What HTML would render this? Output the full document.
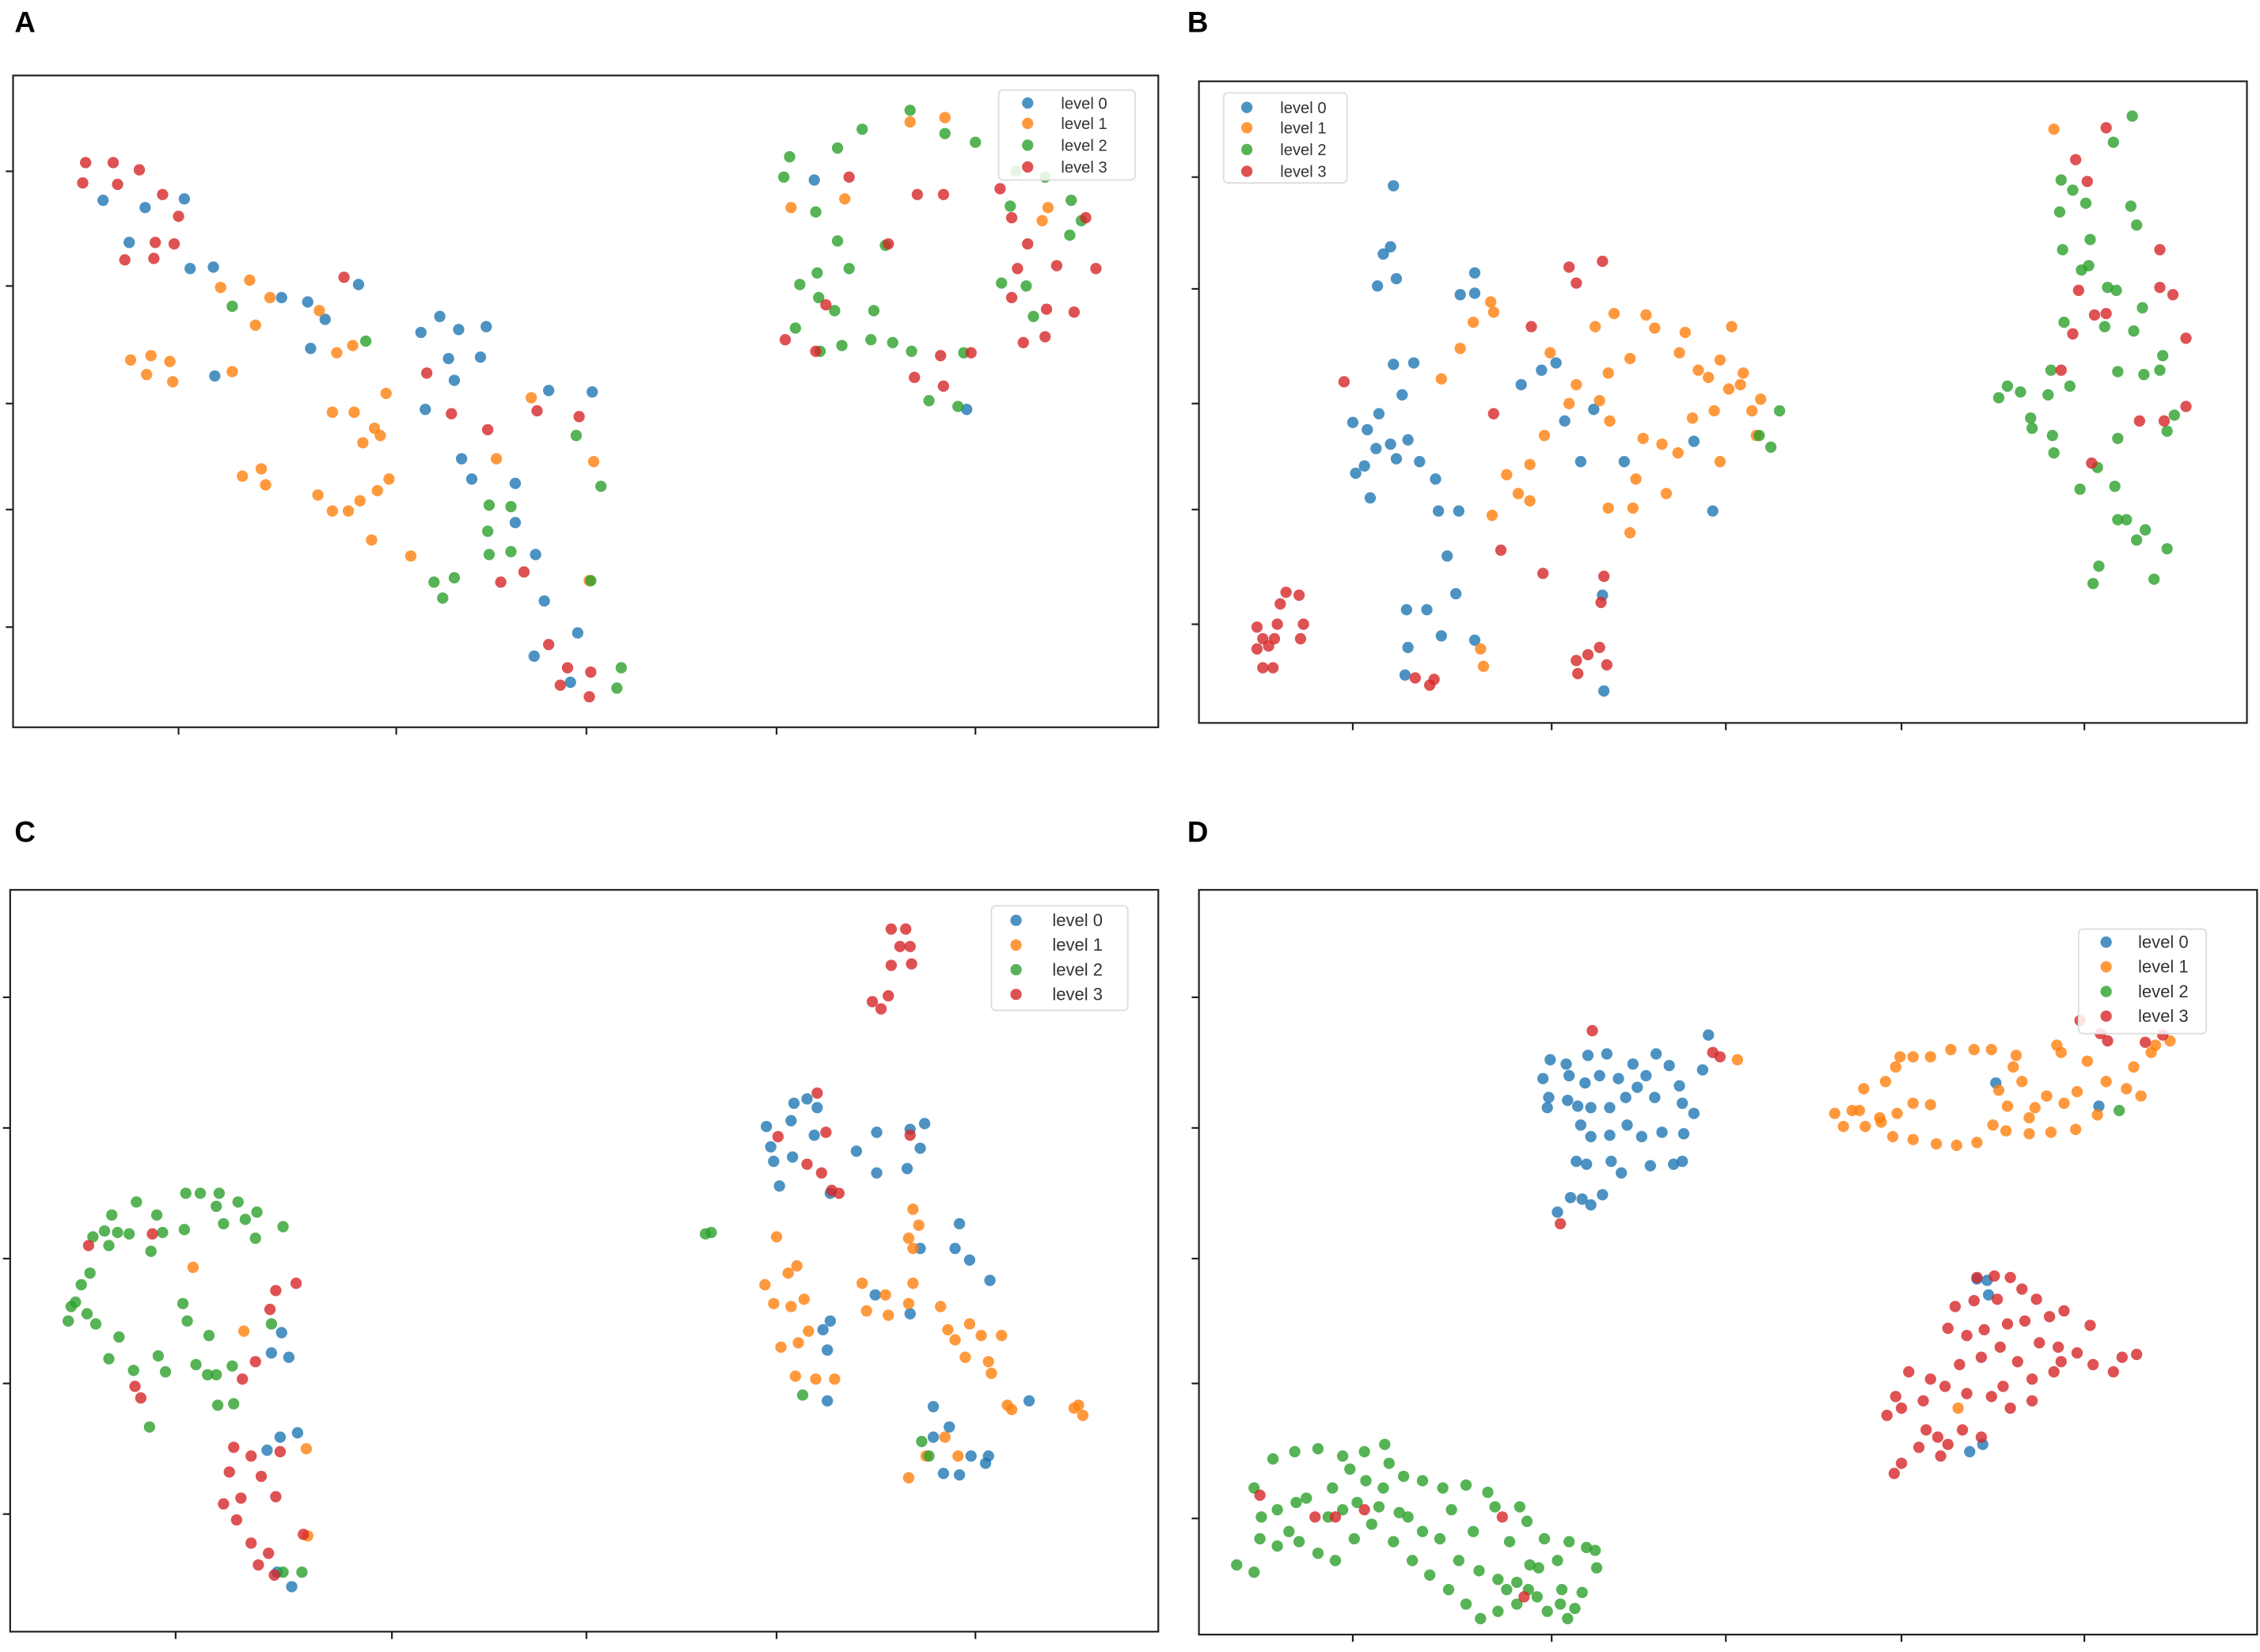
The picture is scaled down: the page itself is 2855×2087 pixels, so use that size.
<!DOCTYPE html>
<html><head><meta charset="utf-8"><style>
html,body{margin:0;padding:0;background:#fff;}
svg{display:block;}
text{font-family:"Liberation Sans",sans-serif;}
</style></head><body>
<svg id="fig" width="2855" height="2087" viewBox="0 0 1557 1138" preserveAspectRatio="none" xmlns="http://www.w3.org/2000/svg">
<rect x="0" y="0" width="1557" height="1138" fill="#fff"/>
</svg>
<script>
// ---- data (per panel, per level) : [x, y] in embedding units ----
const A_L0=[[71,138],[89,167],[100,143],[127,137],[131,185],[147,184],[194,205],[212,208],[214,240],[224,220],[148,259],[247,196],[290,229],[303,218],[316,227],[335,225],[309,247],[331,246],[293,282],[313,262],[318,316],[325,330],[355,333],[355,360],[378,269],[408,270],[369,382],[375,414],[398,436],[368,452],[393,470],[561,124],[666,282]];
const A_L1=[[90,248],[104,245],[101,258],[117,249],[119,263],[152,198],[172,193],[176,224],[186,205],[220,214],[232,243],[243,238],[160,256],[167,328],[180,323],[183,334],[229,284],[244,284],[266,271],[258,295],[250,305],[262,300],[268,330],[260,338],[219,341],[229,352],[248,345],[240,352],[256,372],[283,383],[366,274],[342,316],[409,318],[406,400],[545,143],[582,137],[627,84],[651,81],[718,152],[722,143]];
const A_L2=[[160,211],[252,235],[299,401],[313,398],[305,412],[337,348],[352,349],[337,382],[352,380],[336,366],[397,300],[414,335],[407,400],[428,460],[425,474],[544,108],[540,122],[577,102],[594,89],[627,76],[651,92],[672,98],[562,146],[577,166],[563,188],[564,205],[585,185],[610,169],[551,196],[575,214],[602,214],[548,226],[565,242],[580,238],[600,234],[615,236],[628,242],[664,243],[640,276],[660,280],[700,118],[738,138],[745,152],[696,142],[720,122],[707,197],[712,218],[737,162],[690,195]];
const A_L3=[[59,112],[78,112],[96,117],[57,126],[81,127],[112,134],[123,149],[107,167],[120,168],[86,179],[106,178],[237,191],[294,257],[311,285],[336,296],[370,283],[399,287],[345,401],[361,394],[378,444],[391,460],[407,463],[386,472],[406,480],[632,134],[650,134],[689,130],[697,150],[708,168],[748,150],[701,185],[728,183],[755,185],[697,205],[721,213],[740,215],[569,210],[562,242],[541,234],[630,260],[648,245],[650,266],[669,243],[705,236],[720,232],[585,122],[612,168]];

const B_L0=[[960,128],[958,170],[953,175],[962,192],[949,197],[1016,188],[1006,203],[1016,202],[974,250],[960,251],[966,272],[950,285],[932,291],[942,296],[948,309],[958,306],[970,303],[944,343],[934,326],[940,321],[962,316],[978,318],[989,330],[991,352],[1005,352],[1048,265],[1062,255],[1072,250],[1078,290],[1089,318],[1098,282],[1119,318],[1167,304],[1180,352],[997,383],[969,420],[983,420],[993,438],[970,446],[968,465],[1016,441],[1003,409],[1105,476],[1104,410]];
const B_L1=[[1027,208],[1015,222],[1006,240],[993,261],[1134,217],[1099,225],[1112,216],[1140,226],[1068,243],[1086,265],[1108,257],[1102,276],[1081,278],[1109,290],[1123,247],[1157,243],[1161,229],[1170,255],[1193,225],[1177,260],[1185,248],[1199,265],[1201,257],[1213,275],[1191,268],[1207,283],[1210,300],[1166,288],[1156,312],[1181,283],[1185,318],[1064,300],[1054,320],[1046,340],[1038,327],[1028,355],[1054,345],[1108,350],[1127,330],[1145,306],[1148,340],[1132,302],[1123,367],[1125,350],[1020,447],[1022,459],[1029,215],[1415,89]];
const B_L2=[[1469,80],[1456,98],[1420,124],[1428,131],[1437,140],[1419,146],[1468,142],[1472,155],[1421,172],[1440,165],[1439,183],[1434,186],[1458,200],[1452,198],[1476,212],[1422,222],[1450,225],[1470,228],[1490,245],[1413,255],[1383,266],[1392,270],[1377,274],[1426,266],[1411,272],[1399,288],[1400,295],[1459,256],[1477,258],[1488,255],[1498,286],[1493,297],[1459,302],[1414,300],[1445,322],[1457,335],[1433,337],[1415,312],[1465,358],[1478,365],[1493,378],[1446,390],[1459,358],[1484,399],[1472,372],[1442,402],[1226,283],[1212,300],[1220,308]];
const B_L3=[[1451,88],[1430,110],[1438,125],[1488,172],[1488,198],[1432,200],[1443,217],[1451,216],[1506,233],[1497,203],[1506,280],[1491,290],[1474,290],[1441,319],[1420,255],[1428,230],[926,263],[1081,184],[1104,180],[1086,195],[1055,225],[1029,285],[1034,379],[1063,395],[1105,397],[1103,415],[1102,446],[1094,451],[1107,458],[1086,455],[1087,464],[988,468],[985,472],[975,467],[870,440],[878,440],[877,460],[870,460],[874,445],[866,447],[880,430],[882,416],[886,408],[895,410],[898,430],[896,440],[866,432]];

const C_L0=[[187,932],[194,918],[199,935],[193,990],[205,987],[184,999],[191,1083],[201,1093],[528,776],[531,790],[545,772],[547,760],[556,757],[533,800],[546,797],[561,782],[563,763],[537,817],[572,822],[590,793],[604,780],[604,808],[627,778],[637,774],[634,791],[625,805],[634,860],[661,843],[658,860],[668,868],[682,882],[570,965],[567,916],[572,910],[570,930],[603,892],[627,905],[643,969],[643,990],[654,983],[661,1016],[669,1003],[679,1008],[681,1003],[709,965],[650,1015]];
const C_L1=[[133,873],[168,917],[527,885],[543,877],[549,872],[535,852],[533,898],[545,900],[554,895],[550,925],[538,928],[548,948],[562,950],[575,950],[594,884],[597,903],[610,892],[612,906],[626,898],[629,884],[629,860],[633,844],[626,853],[629,833],[648,900],[653,916],[668,912],[658,923],[665,935],[676,920],[690,920],[681,938],[683,946],[694,968],[697,971],[740,970],[746,975],[743,968],[651,990],[660,1003],[638,1003],[626,1018],[557,917],[211,998],[212,1058]];
const C_L2=[[47,910],[52,897],[56,885],[62,877],[49,900],[60,905],[66,912],[75,858],[81,849],[64,852],[72,848],[77,837],[89,850],[94,828],[108,837],[112,849],[127,847],[128,822],[138,822],[151,822],[164,828],[177,835],[154,843],[149,831],[169,840],[176,853],[195,845],[104,862],[126,898],[129,910],[82,921],[75,936],[92,944],[109,934],[114,945],[149,947],[150,968],[161,967],[160,941],[187,912],[135,940],[144,920],[103,983],[143,947],[486,850],[490,849],[553,961],[635,993],[640,1003],[195,1083],[208,1083]];
const C_L3=[[61,858],[105,850],[190,889],[204,884],[186,902],[176,938],[167,950],[93,955],[97,963],[161,997],[173,1003],[158,1014],[180,1017],[154,1036],[166,1032],[190,1031],[163,1047],[173,1063],[185,1070],[209,1057],[178,1078],[614,640],[624,640],[620,652],[627,652],[614,665],[628,664],[601,690],[607,695],[612,686],[563,753],[536,783],[556,802],[566,808],[573,820],[578,822],[569,780],[627,782],[193,1000],[189,1085]];

const D_L0=[[1068,730],[1079,733],[1094,727],[1107,726],[1125,733],[1141,726],[1177,713],[1063,743],[1066,763],[1081,741],[1092,746],[1102,741],[1115,743],[1134,741],[1150,734],[1157,748],[1067,756],[1080,758],[1087,762],[1096,763],[1109,763],[1120,756],[1128,749],[1140,756],[1159,760],[1167,767],[1173,737],[1089,775],[1096,783],[1109,782],[1121,775],[1131,783],[1145,780],[1160,781],[1086,800],[1093,802],[1110,800],[1117,808],[1137,803],[1153,802],[1159,800],[1073,835],[1082,825],[1090,826],[1096,830],[1104,823],[1357,1000],[1366,995],[1369,882],[1362,881],[1375,746],[1446,762],[1370,892]];
const D_L1=[[1264,767],[1276,765],[1285,776],[1296,773],[1304,783],[1318,785],[1334,788],[1348,789],[1362,787],[1299,745],[1306,735],[1309,728],[1318,728],[1330,728],[1344,723],[1360,723],[1372,723],[1389,727],[1387,735],[1393,745],[1377,751],[1383,762],[1382,779],[1398,781],[1413,780],[1430,778],[1431,752],[1422,760],[1410,755],[1402,763],[1398,770],[1330,761],[1318,760],[1307,767],[1295,770],[1270,776],[1284,750],[1281,765],[1420,725],[1438,731],[1451,745],[1465,750],[1475,755],[1470,735],[1482,725],[1485,720],[1495,717],[1445,768],[1417,720],[1373,775],[1349,970],[1197,730]];
const D_L2=[[864,1025],[877,1005],[892,1000],[908,998],[925,1003],[940,1000],[954,995],[957,1008],[967,1017],[980,1020],[994,1025],[1010,1023],[1025,1028],[1030,1038],[1047,1038],[1052,1048],[1064,1060],[1081,1062],[1093,1066],[1099,1068],[1073,1075],[1060,1080],[1054,1078],[1053,1095],[1045,1090],[1038,1095],[1032,1088],[1019,1082],[1005,1075],[992,1060],[980,1055],[970,1045],[964,1042],[950,1038],[935,1035],[925,1040],[915,1045],[893,1035],[880,1040],[869,1045],[868,1060],[880,1065],[895,1062],[908,1070],[920,1075],[933,1060],[945,1050],[960,1062],[973,1075],[985,1085],[998,1095],[1010,1105],[1020,1115],[1032,1110],[1045,1105],[1059,1100],[1066,1110],[1075,1105],[1085,1108],[1080,1115],[1090,1097],[1100,1080],[852,1078],[864,1083],[888,1055],[900,1032],[918,1025],[930,1012],[941,1020],[953,1025],[1000,1040],[1015,1055],[1040,1062],[1076,1095],[1460,765]];
const D_L3=[[1362,880],[1374,879],[1385,880],[1393,888],[1403,895],[1412,907],[1422,903],[1440,913],[1376,895],[1360,896],[1347,900],[1342,915],[1355,920],[1367,916],[1383,912],[1395,910],[1405,925],[1418,928],[1431,932],[1442,940],[1456,945],[1472,933],[1462,935],[1350,940],[1365,935],[1378,928],[1390,938],[1400,950],[1415,945],[1420,938],[1330,950],[1315,945],[1306,962],[1300,975],[1310,970],[1325,965],[1340,955],[1355,960],[1372,962],[1385,970],[1400,965],[1327,985],[1335,990],[1342,995],[1352,985],[1337,1003],[1322,997],[1310,1008],[1305,1015],[1365,990],[1380,955],[1097,710],[1075,843],[1185,728],[1180,725],[1447,712],[1452,717],[1433,703],[1490,713],[1478,718],[906,1045],[920,1045],[940,1040],[1050,1100],[868,1030],[1035,1045]];

const LEVEL_LABELS=["level 0","level 1","level 2","level 3"];
const COLORS=["#1f77b4","#ff7f0e","#2ca02c","#d62728"];

const svg=document.getElementById('fig');
const NS="http://www.w3.org/2000/svg";
function mk(tag,attrs,parent){const e=document.createElementNS(NS,tag);for(const k in attrs)e.setAttribute(k,attrs[k]);(parent||svg).appendChild(e);return e;}
function linScale(d0,d1,r0,r1){return v=>r0+(v-d0)/(d1-d0)*(r1-r0);}

const panels=[
 {id:"a",letter:"A",lx:10,ly:22,box:[9,52,798,501],xt:[123,273,404,535,672],yt:[118,197,278,351,432],series:[A_L0,A_L1,A_L2,A_L3],leg:{x:688,y:62,w:94,h:62,rows:[71,85,100,115],mx:708,tx:731,fs:11}},
 {id:"b",letter:"B",lx:818,ly:22,box:[826,56,1548,498],xt:[932,1069,1189,1310,1436],yt:[122,199,278,351,430],series:[B_L0,B_L1,B_L2,B_L3],leg:{x:843,y:64,w:85,h:62,rows:[74,88,103,118],mx:859,tx:882,fs:11}},
 {id:"c",letter:"C",lx:10,ly:580,box:[7,613,798,1124],xt:[121,270,404,535,672],yt:[687,777,867,953,1043],series:[C_L0,C_L1,C_L2,C_L3],leg:{x:683,y:624,w:94,h:72,rows:[634,651,668,685],mx:700,tx:725,fs:12}},
 {id:"d",letter:"D",lx:818,ly:580,box:[826,613,1555,1126],xt:[932,1069,1189,1310,1436],yt:[687,777,867,953,1046],series:[D_L0,D_L1,D_L2,D_L3],leg:{x:1432,y:640,w:88,h:72,rows:[649,666,683,700],mx:1451,tx:1473,fs:12}}
];

panels.forEach(p=>{
  const [x0,y0,x1,y1]=p.box;
  const g=mk('g',{});
  
  
  const lab=mk('text',{x:p.lx,y:p.ly,'font-size':20,'font-weight':'bold',fill:'#000'},g);
  lab.textContent=p.letter;
  
  
  // scales (domain = embedding extent of panel)
  const xs=linScale(x0,x1,x0,x1), ys=linScale(y0,y1,y0,y1);
  p.series.forEach((ser,li)=>{
    const sg=mk('g',{fill:COLORS[li],'fill-opacity':0.8},g);
    
    
    ser.forEach(pt=>{
      const c=mk('circle',{cx:xs(pt[0]),cy:ys(pt[1]),r:3.9},sg);
      
      
    });
  });
  const fr=mk('rect',{x:x0,y:y0,width:x1-x0,height:y1-y0,fill:'none',stroke:'#222',"stroke-width":1.2},g);
  
  
  p.xt.forEach(t=>{const l=mk('line',{x1:t,x2:t,y1:y1,y2:y1+5,stroke:'#222','stroke-width':1.2},g);
    
    });
  p.yt.forEach(t=>{const l=mk('line',{x1:x0-5,x2:x0,y1:t,y2:t,stroke:'#222','stroke-width':1.2},g);
    
    });
  const L=p.leg;
  const lg=mk('g',{},g);
  
  
  mk('rect',{x:L.x,y:L.y,width:L.w,height:L.h,rx:3,fill:'#fff','fill-opacity':0.85,stroke:'#ddd','stroke-width':1},lg);
  L.rows.forEach((ry,i)=>{
    const m=mk('circle',{cx:L.mx,cy:ry,r:3.9,fill:COLORS[i],'fill-opacity':0.8},lg);
    
    
    const t=mk('text',{x:L.tx,y:ry+4,'font-size':L.fs,fill:'#333'},lg);
    t.textContent=LEVEL_LABELS[i];
    
    
  });
});
</script>
</body></html>
